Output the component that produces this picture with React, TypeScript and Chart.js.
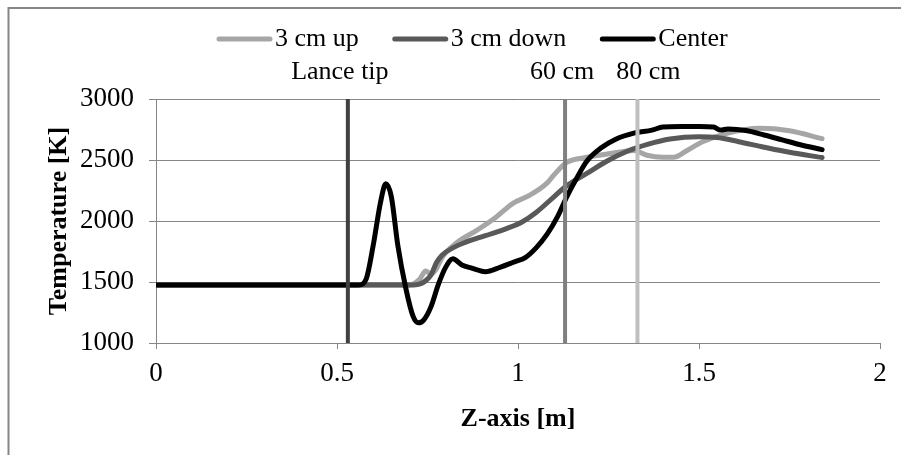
import React, { useEffect, useRef } from 'react';
import { Chart, registerables } from 'chart.js';

Chart.register(...registerables);

// ---- data ----
const seriesNames = ['3 cm up', '3 cm down', 'Center'];

const upX = [0, 0.7, 0.715, 0.73, 0.745, 0.76, 0.775, 0.79, 0.83, 0.887, 0.94, 0.986, 1.033, 1.08, 1.1, 1.135, 1.19, 1.26, 1.32, 1.356, 1.4, 1.43, 1.467, 1.51, 1.577, 1.668, 1.75, 1.84];
const upT = [1475, 1475, 1490, 1530, 1590, 1565, 1610, 1700, 1820, 1925, 2033, 2145, 2212, 2310, 2380, 2480, 2522, 2555, 2578, 2539, 2522, 2522, 2578, 2650, 2718, 2760, 2740, 2675];

const downX = [0, 0.7, 0.73, 0.745, 0.76, 0.775, 0.79, 0.82, 0.85, 0.91, 0.97, 1.01, 1.05, 1.1, 1.135, 1.19, 1.245, 1.3, 1.36, 1.42, 1.5, 1.55, 1.61, 1.68, 1.75, 1.84];
const downT = [1475, 1475, 1485, 1510, 1560, 1660, 1720, 1780, 1820, 1880, 1940, 1990, 2070, 2200, 2290, 2390, 2490, 2570, 2630, 2672, 2690, 2685, 2650, 2605, 2563, 2520];

const centerX = [0, 0.56, 0.58, 0.6, 0.62, 0.635, 0.65, 0.668, 0.69, 0.71, 0.725, 0.74, 0.76, 0.78, 0.8, 0.82, 0.845, 0.87, 0.91, 0.95, 0.99, 1.02, 1.05, 1.08, 1.11, 1.135, 1.16, 1.19, 1.23, 1.27, 1.32, 1.37, 1.4, 1.45, 1.5, 1.54, 1.56, 1.58, 1.63, 1.68, 1.73, 1.78, 1.84];
const centerT = [1475, 1475, 1520, 1800, 2150, 2305, 2200, 1800, 1450, 1220, 1165, 1190, 1300, 1480, 1620, 1690, 1640, 1615, 1585, 1620, 1665, 1700, 1780, 1890, 2040, 2200, 2340, 2490, 2600, 2670, 2720, 2745, 2770, 2775, 2775, 2770, 2745, 2755, 2742, 2705, 2665, 2625, 2585];

const markerNames = ['Lance tip', '60 cm', '80 cm'];
const markerX = [0.53, 1.13, 1.33];
const markerRange = [1000, 3000];

const xMin = 0, xMax = 2, xStep = 0.5;
const yMin = 1000, yMax = 3000, yStep = 500;

// ---- styles ----
const FONT = "'Liberation Serif', 'Times New Roman', serif";
const seriesColors = ['#a6a6a6', '#595959', '#000000'];
const markerColors = ['#404040', '#808080', '#bfbfbf'];
const markerLabelOffsets = [-8, -3, 11];
const AXIS_GRAY = '#868686';

const decorPlugin = {
  id: 'decor',
  beforeDraw(chart: any) {
    const ctx = chart.ctx;
    ctx.save();
    ctx.fillStyle = '#ffffff';
    ctx.fillRect(0, 0, chart.width, chart.height);
    ctx.strokeStyle = AXIS_GRAY;
    ctx.lineWidth = 2;
    ctx.beginPath();
    ctx.moveTo(8.5, chart.height + 10);
    ctx.lineTo(8.5, 8);
    ctx.lineTo(chart.width + 10, 8);
    ctx.stroke();
    ctx.restore();
  },
  afterDraw(chart: any) {
    const ctx = chart.ctx;
    ctx.save();
    ctx.font = `26px ${FONT}`;
    ctx.textBaseline = 'middle';
    ctx.textAlign = 'left';
    let x = 219;
    const y = 39;
    for (let i = 0; i < seriesNames.length; i++) {
      const ds = chart.data.datasets[i];
      ctx.strokeStyle = ds.borderColor;
      ctx.lineWidth = 5;
      ctx.lineCap = 'round';
      ctx.beginPath();
      ctx.moveTo(x, y);
      ctx.lineTo(x + 51, y);
      ctx.stroke();
      ctx.fillStyle = '#000';
      ctx.fillText(ds.label, x + 56, y);
      x += 56 + ctx.measureText(ds.label).width + 36;
    }
    const xs = chart.scales.x;
    ctx.textAlign = 'center';
    for (let i = 0; i < markerNames.length; i++) {
      const px = xs.getPixelForValue(markerX[i]) + markerLabelOffsets[i];
      ctx.fillText(markerNames[i], px, 72);
    }
    ctx.restore();
  },
};

export default function App() {
  const ref = useRef<HTMLCanvasElement | null>(null);

  useEffect(() => {
    if (!ref.current) return;
    const toPts = (xs: number[], ys: number[]) => xs.map((x, i) => ({ x, y: ys[i] }));
    const seriesData = [toPts(upX, upT), toPts(downX, downT), toPts(centerX, centerT)];

    const datasets: any[] = seriesNames.map((name, i) => ({
      label: name,
      data: seriesData[i],
      borderColor: seriesColors[i],
      backgroundColor: seriesColors[i],
      borderWidth: 5,
      pointRadius: 0,
      cubicInterpolationMode: 'monotone',
      borderCapStyle: 'round',
      borderJoinStyle: 'round',
      fill: false,
      order: 3 - i,
    }));
    markerNames.forEach((name, i) => {
      datasets.push({
        label: name,
        data: markerRange.map((t) => ({ x: markerX[i], y: t })),
        borderColor: markerColors[i],
        backgroundColor: markerColors[i],
        borderWidth: 4,
        pointRadius: 0,
        borderCapStyle: 'butt',
        fill: false,
        order: 0,
      });
    });

    const chart = new Chart(ref.current, {
      type: 'line',
      data: { datasets },
      plugins: [decorPlugin],
      options: {
        animation: false,
        responsive: false,
        devicePixelRatio: 1,
        layout: { padding: { top: 99, left: 0, right: 21, bottom: 0 } },
        plugins: { legend: { display: false }, tooltip: { enabled: false } },
        scales: {
          x: {
            type: 'linear',
            min: xMin,
            max: xMax,
            grid: { drawOnChartArea: false, drawTicks: true, tickLength: 6, color: AXIS_GRAY },
            border: { display: true, color: AXIS_GRAY, width: 1 },
            ticks: {
              stepSize: xStep,
              color: '#000',
              font: { family: FONT, size: 27 },
              padding: 9,
              maxRotation: 0,
              autoSkip: false,
              callback: (v: any) => String(v),
            },
            title: {
              display: true,
              text: 'Z-axis [m]',
              color: '#000',
              font: { family: FONT, size: 26, weight: 'bold' },
              padding: { top: 0, bottom: 20 },
            },
            afterFit: (s: any) => {
              s.height = 112;
            },
          },
          y: {
            type: 'linear',
            min: yMin,
            max: yMax,
            grid: { color: AXIS_GRAY, tickLength: 7 },
            border: { display: true, color: AXIS_GRAY, width: 1 },
            ticks: {
              stepSize: yStep,
              color: '#000',
              font: { family: FONT, size: 27 },
              padding: 15,
              callback: (v: any) => String(v),
            },
            title: {
              display: true,
              text: 'Temperature [K]',
              color: '#000',
              font: { family: FONT, size: 26, weight: 'bold' },
              padding: { top: 44, bottom: 0 },
            },
            afterFit: (s: any) => {
              s.width = 156;
            },
          },
        },
      } as any,
    });
    return () => chart.destroy();
  }, []);

  return (
    <div style={{ position: 'fixed', left: 0, top: 0, width: 901, height: 455, overflow: 'hidden', background: '#fff' }}>
      <canvas ref={ref} width={901} height={455} style={{ display: 'block' }} />
    </div>
  );
}
